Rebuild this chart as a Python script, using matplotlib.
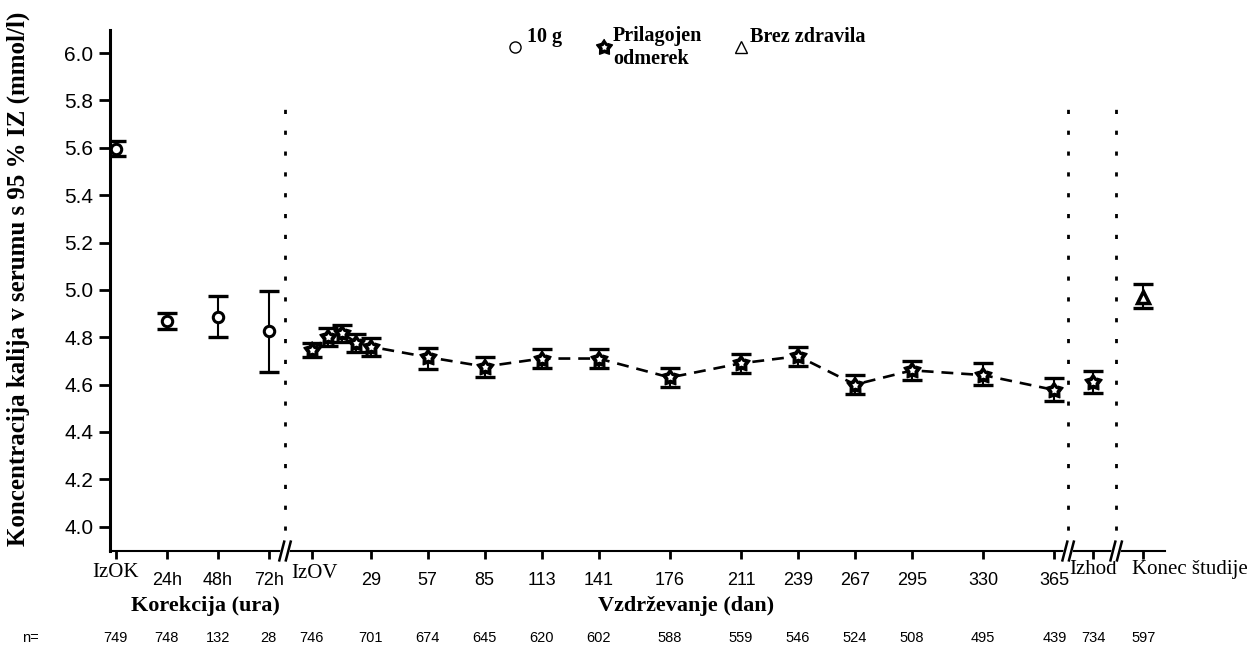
import numpy as np
import matplotlib.pyplot as plt
import matplotlib.transforms as mtransforms

SERIF = ['Liberation Serif', 'DejaVu Serif']
SANS = ['Liberation Sans', 'DejaVu Sans']

# Korekcija (ura) - 10 g
corr_hours = [0, 24, 48, 72]
corr_labels = ['IzOK', '24h', '48h', '72h']
corr_mean = [5.595, 4.869, 4.885, 4.827]
corr_lo = [5.565, 4.834, 4.803, 4.652]
corr_hi = [5.627, 4.901, 4.975, 4.996]
corr_n = [749, 748, 132, 28]

# Vzdrževanje (dan) - prilagojen odmerek
maint_days = [0, 8, 15, 22, 29, 57, 85, 113, 141, 176, 211, 239, 267, 295, 330, 365]
maint_mean = [4.747, 4.800, 4.817, 4.777, 4.760, 4.716, 4.676, 4.710, 4.710,
              4.630, 4.690, 4.720, 4.600, 4.660, 4.640, 4.577]
maint_lo = [4.717, 4.763, 4.780, 4.739, 4.722, 4.667, 4.631, 4.670, 4.670,
            4.590, 4.650, 4.680, 4.560, 4.620, 4.600, 4.532]
maint_hi = [4.777, 4.838, 4.852, 4.815, 4.797, 4.754, 4.718, 4.750, 4.750,
            4.670, 4.730, 4.760, 4.640, 4.700, 4.690, 4.627]
maint_tick_days = [0, 29, 57, 85, 113, 141, 176, 211, 239, 267, 295, 330, 365]
maint_tick_labels = ['IzOV', '29', '57', '85', '113', '141', '176', '211', '239',
                     '267', '295', '330', '365']
maint_n = [746, 701, 674, 645, 620, 602, 588, 559, 546, 524, 508, 495, 439]

# Izhod (prilagojen odmerek) and Konec študije (brez zdravila)
exit_mean, exit_lo, exit_hi, exit_n = 4.613, 4.566, 4.658, 734
end_mean, end_lo, end_hi, end_n = 4.972, 4.923, 5.025, 597

# positions on the shared (broken) x axis, in "day" units
corr_x = [-96.3 + h * 1.044 for h in corr_hours]
maint_x = list(maint_days)
exit_x = 384.1
end_x = 408.6
breaks = [-13.1, 371.7, 395.3]

# fat five-pointed star marker
ang = np.pi / 2 + np.arange(10) * np.pi / 5
rad = np.where(np.arange(10) % 2 == 0, 1.0, 0.6)
STAR = list(zip(rad * np.cos(ang), rad * np.sin(ang)))

fig = plt.figure(figsize=(12.5, 6.51), dpi=100)
ax = fig.add_axes([0.088, 0.1536, 0.844, 0.8004])
ax.set_xlim(-99.1, 419.3)
ax.set_ylim(3.897, 6.098)

eb = dict(fmt='none', ecolor='black', elinewidth=1.5, capsize=7.5, capthick=2.4, zorder=3)


def err(mean, lo, hi):
    mean, lo, hi = np.atleast_1d(mean), np.atleast_1d(lo), np.atleast_1d(hi)
    return [mean - lo, hi - mean]


def stars(x, y):
    ax.plot(x, y, marker=STAR, ls='none', ms=13, mfc='black', mec='black', mew=1, zorder=4)
    ax.plot(x, y, marker=STAR, ls='none', ms=5, mfc='white', mec='white', mew=0, zorder=5)


ax.errorbar(corr_x, corr_mean, yerr=err(corr_mean, corr_lo, corr_hi), **eb)
ax.plot(corr_x, corr_mean, 'o', ms=7.5, mfc='white', mec='black', mew=2.2, zorder=4)

ax.plot(maint_x, maint_mean, color='black', lw=1.9, dashes=(4.5, 3), zorder=2)
ax.errorbar(maint_x, maint_mean, yerr=err(maint_mean, maint_lo, maint_hi), **eb)
stars(maint_x, maint_mean)

ax.errorbar([exit_x], [exit_mean], yerr=err(exit_mean, exit_lo, exit_hi), **eb)
stars([exit_x], [exit_mean])

ax.errorbar([end_x], [end_mean], yerr=err(end_mean, end_lo, end_hi), **eb)
ax.plot([end_x], [end_mean], '^', ms=9, mfc='white', mec='black', mew=2.5, zorder=4)

# dotted separators
for xb in breaks:
    ax.plot([xb, xb], [3.897, 5.78], color='black', lw=2, dashes=(1.5, 6), zorder=1)

# axes styling
for s in ['top', 'right']:
    ax.spines[s].set_visible(False)
ax.spines['left'].set_linewidth(2.2)
ax.spines['bottom'].set_linewidth(1.5)
ax.set_yticks(np.arange(4.0, 6.01, 0.2))
ax.set_yticklabels([f'{v:.1f}' for v in np.arange(4.0, 6.01, 0.2)], family=SANS, fontsize=15)
ax.tick_params(axis='y', direction='out', length=8, width=2, pad=4)
all_x = corr_x + maint_tick_days + [exit_x, end_x]
ax.set_xticks(all_x)
ax.tick_params(axis='x', direction='out', length=6, width=2, labelbottom=False)

# axis breaks
xt = ax.get_xaxis_transform()
for xb in breaks:
    ax.fill([xb - 3.0, xb + 1.0, xb + 3.0, xb - 1.0], [-0.018, -0.018, 0.018, 0.018],
            color='white', transform=xt, clip_on=False, zorder=5)
    for dx in (-1.6, 1.6):
        ax.plot([xb + dx - 1.2, xb + dx + 1.2], [-0.018, 0.018], color='black', lw=1.8,
                transform=xt, clip_on=False, zorder=6)

# x tick labels
for x, lab in zip(corr_x, corr_labels):
    if lab == 'IzOK':
        ax.text(x, -0.042, lab, transform=xt, ha='center', va='center', family=SERIF, fontsize=15)
    else:
        ax.text(x, -0.056, lab, transform=xt, ha='center', va='center', family=SANS, fontsize=13)
for x, lab in zip(maint_tick_days, maint_tick_labels):
    if lab == 'IzOV':
        ax.text(x + 1.6, -0.044, lab, transform=xt, ha='center', va='center', family=SERIF, fontsize=15)
    else:
        ax.text(x, -0.056, lab, transform=xt, ha='center', va='center', family=SANS, fontsize=13)
ax.text(exit_x, -0.035, 'Izhod', transform=xt, ha='center', va='center', family=SERIF, fontsize=15)
ax.text(403.1, -0.035, 'Konec študije', transform=xt, ha='left', va='center', family=SERIF, fontsize=15)

# axis titles
fig.text(205 / 1250, 1 - 606 / 651, 'Korekcija (ura)', ha='center', va='center',
         family=SERIF, fontsize=16, fontweight='bold')
fig.text(686 / 1250, 1 - 606 / 651, 'Vzdrževanje (dan)', ha='center', va='center',
         family=SERIF, fontsize=16, fontweight='bold')
fig.text(18 / 1250, 1 - 279 / 651, 'Koncentracija kalija v serumu s 95 % IZ (mmol/l)',
         rotation=90, ha='center', va='center', family=SERIF, fontsize=18, fontweight='bold')

# n= row
nt = mtransforms.blended_transform_factory(ax.transData, fig.transFigure)
fig.text(22 / 1250, 1 - 638 / 651, 'n=', ha='left', va='center', family=SANS, fontsize=10.5)
for x, n in zip(corr_x + maint_tick_days + [exit_x, end_x], corr_n + maint_n + [exit_n, end_n]):
    ax.text(x, 1 - 638 / 651, str(n), transform=nt, ha='center', va='center', family=SANS, fontsize=10.5)

# legend
ft = fig.transFigure


def px(x, y):
    return x / 1250, 1 - y / 651


fig.add_artist(plt.Line2D(*zip(px(515, 47)), marker='o', ms=8, mfc='white', mec='black', mew=1, transform=ft))
fig.text(*px(527, 37), '10 g', ha='left', va='center', family=SERIF, fontsize=14.5, fontweight='bold')
fig.add_artist(plt.Line2D(*zip(px(604, 47)), marker=STAR, ms=12, mfc='black', mec='black', mew=1, transform=ft))
fig.add_artist(plt.Line2D(*zip(px(604, 47)), marker=STAR, ms=4.5, mfc='white', mec='white', mew=0, transform=ft))
fig.text(*px(613, 26), 'Prilagojen\nodmerek', ha='left', va='top', family=SERIF, fontsize=14.5,
         fontweight='bold', linespacing=1.2)
fig.add_artist(plt.Line2D(*zip(px(741, 47)), marker='^', ms=8, mfc='white', mec='black', mew=1, transform=ft))
fig.text(*px(750, 37), 'Brez zdravila', ha='left', va='center', family=SERIF, fontsize=14.5, fontweight='bold')

fig.savefig('out.png', dpi=100)
